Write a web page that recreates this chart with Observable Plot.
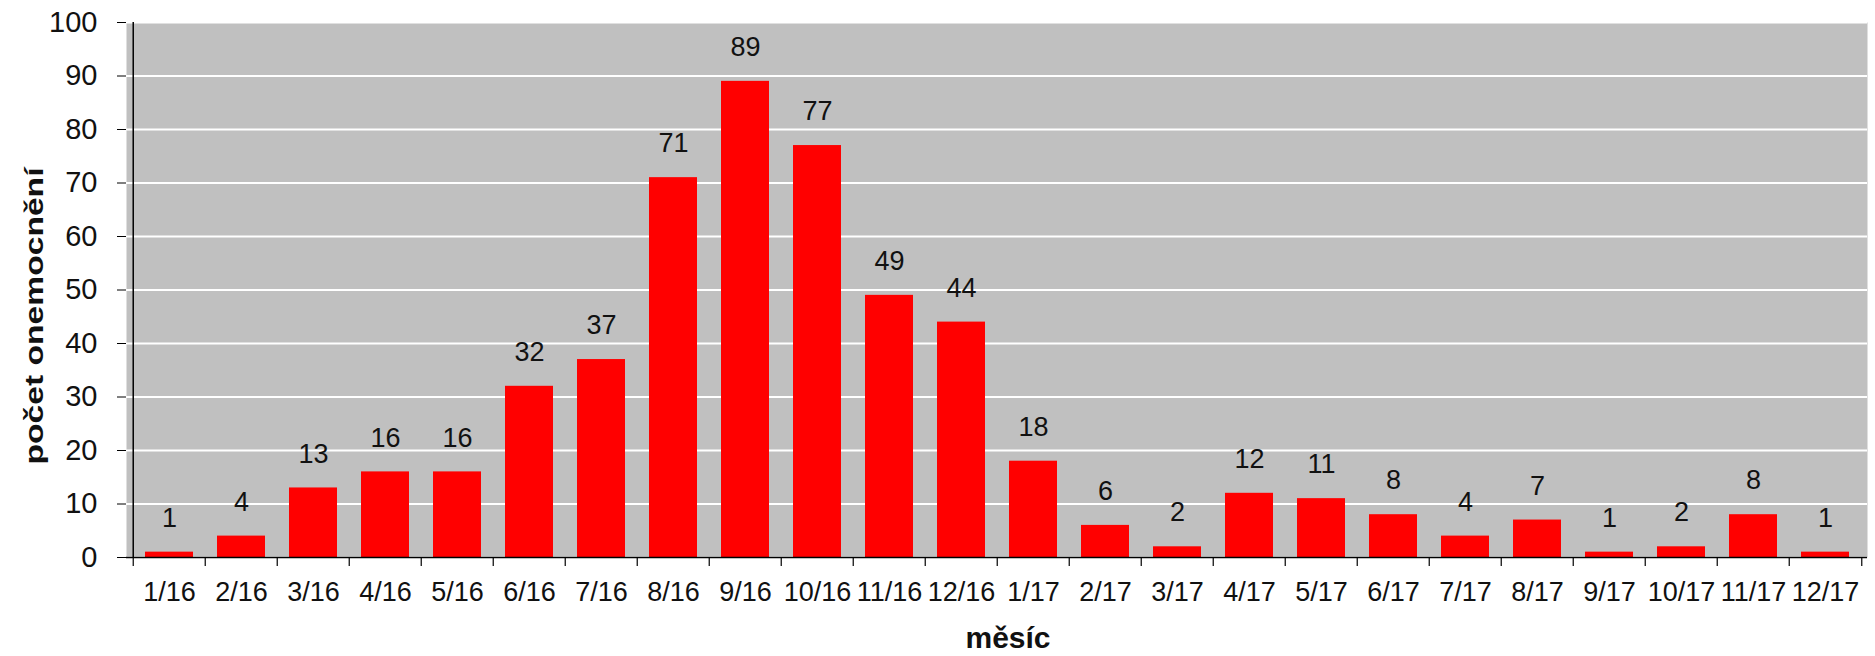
<!DOCTYPE html>
<html>
<head>
<meta charset="utf-8">
<script src="https://cdn.jsdelivr.net/npm/d3@7"></script>
<script src="https://cdn.jsdelivr.net/npm/@observablehq/plot@0.6"></script>
<style>
  html, body { margin: 0; padding: 0; background: #fff; }
  #chart svg { display: block; }
</style>
</head>
<body>
<div id="chart"></div>
<script>
const months = ["1/16","2/16","3/16","4/16","5/16","6/16","7/16","8/16","9/16","10/16","11/16","12/16",
                "1/17","2/17","3/17","4/17","5/17","6/17","7/17","8/17","9/17","10/17","11/17","12/17"];
const cases = [1,4,13,16,16,32,37,71,89,77,49,44,18,6,2,12,11,8,4,7,1,2,8,1];
const yTicks = [0,10,20,30,40,50,60,70,80,90,100];
const xLabel = "měsíc";
const yLabel = "počet onemocnění";

const data = months.map((m, i) => ({month: m, value: cases[i]}));

const W = 1875, H = 656;
const mL = 126, mR = 8, mT = 22, mB = 99;
const step = (W - mL - mR) / months.length;
const plotH = H - mT - mB;

const chart = Plot.plot({
  width: W,
  height: H,
  marginLeft: mL,
  marginRight: mR,
  marginTop: mT,
  marginBottom: mB,
  style: {fontFamily: "'Liberation Sans', Arial, sans-serif", background: "#fff", color: "#000"},
  x: {type: "band", domain: months, padding: 0},
  y: {domain: [0, 100]},
  marks: [
    Plot.frame({fill: "#c0c0c0", stroke: null}),
    Plot.gridY(yTicks, {stroke: "#fff", strokeOpacity: 1, strokeWidth: 2}),
    Plot.barY(data, {x: "month", y: "value", fill: "#ff0000", insetLeft: 12, insetRight: 12}),
    Plot.text(data, {x: "month", y: "value", text: d => String(d.value), dy: -34, fontSize: 27, fill: "#111"}),
    Plot.ruleY([0], {stroke: "#000", strokeWidth: 1.5}),
    // y axis line
    Plot.ruleX([months[0]], {x: d => d, dx: -step / 2, stroke: "#000", strokeWidth: 1.5}),
    // x ticks at band boundaries
    Plot.ruleX(months, {x: d => d, dx: -step / 2, insetTop: plotH, insetBottom: -9, stroke: "#000", strokeWidth: 1.2}),
    Plot.ruleX([months[months.length - 1]], {x: d => d, dx: step / 2, insetTop: plotH, insetBottom: -9, stroke: "#000", strokeWidth: 1.2}),
    Plot.axisX({tickSize: 0, tickPadding: 24, fontSize: 27, label: null, fill: "#111"}),
    Plot.axisY({ticks: yTicks, tickSize: 9, tickPadding: 20, fontSize: 29, label: null, stroke: "#000", fill: "#111"}),
    Plot.text([xLabel], {frameAnchor: "bottom", textAnchor: "middle", lineAnchor: "bottom", dy: 90, dx: 11, fontSize: 30, fontWeight: "bold", fill: "#111"}),
    Plot.text([yLabel], {frameAnchor: "left", textAnchor: "middle", rotate: -90, dx: -92, dy: 26, fontSize: 26, fontWeight: "bold", fill: "#111"})
  ]
});
d3.select(chart).selectAll("text")
  .filter(function() { return this.textContent === yLabel; })
  .attr("textLength", 297)
  .attr("lengthAdjust", "spacingAndGlyphs");
document.getElementById("chart").appendChild(chart);
</script>
</body>
</html>
